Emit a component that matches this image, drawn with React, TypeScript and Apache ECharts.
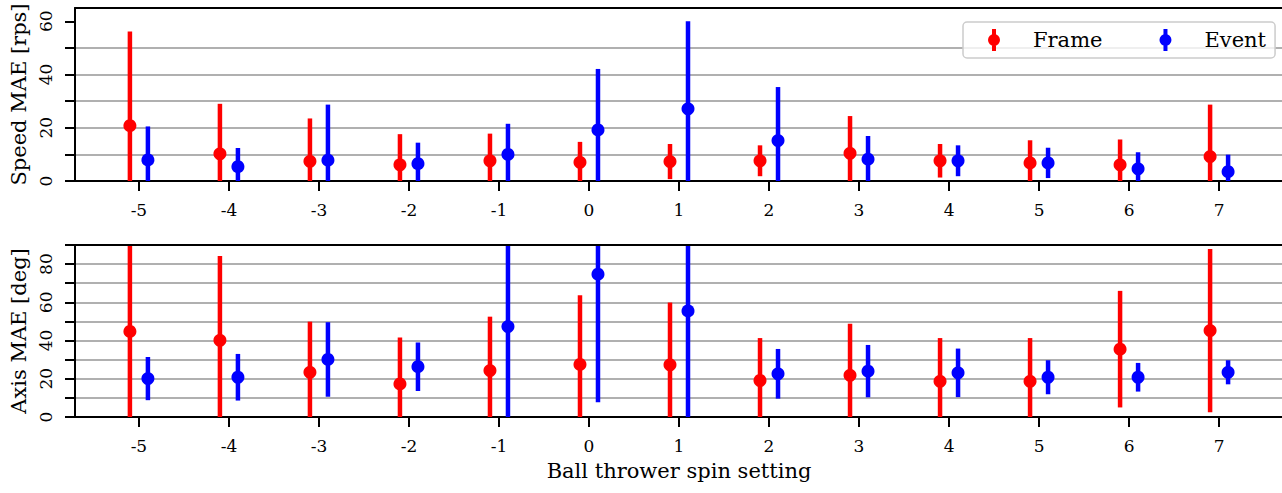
import React, { useEffect, useRef } from "react";
import * as echarts from "echarts";

// ---------------- data ----------------
const settings = [-5, -4, -3, -2, -1, 0, 1, 2, 3, 4, 5, 6, 7];

const speedFrameMean = [20.8, 10.2, 7.4, 6.1, 7.6, 7.0, 7.3, 7.6, 10.4, 7.6, 6.8, 6.1, 9.2];
const speedFrameErr = [35.4, 18.8, 16.1, 11.5, 10.2, 7.7, 6.6, 5.8, 14.0, 6.3, 8.5, 9.5, 19.5];
const speedEventMean = [7.9, 5.4, 7.8, 6.5, 10.0, 19.2, 27.1, 15.2, 8.2, 7.6, 6.8, 4.6, 3.5];
const speedEventErr = [12.6, 7.0, 20.9, 7.9, 11.5, 22.9, 32.9, 20.1, 8.7, 5.8, 5.7, 6.2, 6.4];

const axisFrameMean = [44.8, 40.1, 23.4, 17.3, 24.3, 27.5, 27.3, 19.1, 21.8, 18.7, 18.7, 35.5, 45.2];
const axisFrameErr = [50.0, 44.1, 26.5, 24.3, 28.2, 36.2, 32.6, 22.2, 27.0, 22.6, 22.6, 30.5, 42.7];
const axisEventMean = [20.1, 20.8, 30.1, 26.3, 47.3, 74.7, 55.5, 22.6, 24.0, 23.1, 20.8, 20.8, 23.4];
const axisEventErr = [11.3, 12.2, 19.5, 12.7, 48.0, 67.0, 57.0, 13.0, 13.7, 12.7, 8.9, 7.5, 6.3];

const speedTicks = [0, 10, 20, 30, 40, 50, 60];
const speedLabels = [0, 20, 40, 60];
const axisTicks = [0, 10, 20, 30, 40, 50, 60, 70, 80, 90];
const axisLabels = [0, 20, 40, 60, 80];

const seriesNames = ["Frame", "Event"];
const xAxisTitle = "Ball thrower spin setting";
const speedTitle = "Speed MAE [rps]";
const axisTitle = "Axis MAE [deg]";

// ---------------- style ----------------
const FONT = "DejaVu Serif";
const RED = "#ff0000";
const BLUE = "#0000ff";
const X_MIN = -5.71;
const X_MAX = 7.71;
const DODGE = 0.1;
const SPEED_MAX = 65;
const AXIS_MAX = 90;

const legendIcon =
  "path://M4,0h4v22h-4Z M0,11a6,6 0 1,1 12,0a6,6 0 1,1 -12,0Z";

function errorBars(name: string, color: string, idx: number, means: number[], errs: number[], offset: number, yMax: number) {
  return {
    name,
    type: "custom",
    xAxisIndex: idx,
    yAxisIndex: idx,
    clip: true,
    z: 2,
    itemStyle: { color },
    encode: { x: 0, y: 1 },
    data: settings.map((s, i) => [s + offset, means[i], errs[i]]),
    renderItem: (params: any, api: any) => {
      const x = api.value(0);
      const m = api.value(1);
      const e = api.value(2);
      const lo = Math.max(0, m - e);
      const hi = Math.min(yMax, m + e);
      const p1 = api.coord([x, lo]);
      const p2 = api.coord([x, hi]);
      return {
        type: "line",
        shape: { x1: p1[0], y1: p1[1], x2: p2[0], y2: p2[1] },
        style: { stroke: color, lineWidth: 4.5 },
      };
    },
  };
}

function dots(name: string, color: string, idx: number, means: number[], offset: number) {
  return {
    name,
    type: "scatter",
    xAxisIndex: idx,
    yAxisIndex: idx,
    z: 3,
    symbol: "circle",
    symbolSize: 13,
    itemStyle: { color, opacity: 1 },
    emphasis: { disabled: true },
    data: settings.map((s, i) => [s + offset, means[i]]),
  };
}

const black = "#000000";

function xAxisBottom(gridIndex: number, withName: boolean) {
  return {
    type: "value",
    gridIndex,
    position: "bottom",
    min: X_MIN,
    max: X_MAX,
    axisLine: { show: true, onZero: false, lineStyle: { color: black, width: 2 } },
    axisTick: { show: true, customValues: settings, length: 10, lineStyle: { color: black, width: 2 } },
    axisLabel: {
      customValues: settings,
      margin: 20,
      fontFamily: FONT,
      fontSize: 17,
      color: black,
      formatter: (v: number) => String(v),
    },
    splitLine: { show: false },
    name: withName ? xAxisTitle : "",
    nameLocation: "middle",
    nameGap: 43,
    nameTextStyle: { fontFamily: FONT, fontSize: 21, color: black },
  };
}

function xAxisTop(gridIndex: number) {
  return {
    type: "value",
    gridIndex,
    position: "top",
    min: X_MIN,
    max: X_MAX,
    z: 5,
    axisLine: { show: true, onZero: false, lineStyle: { color: black, width: 2 } },
    axisTick: { show: false },
    axisLabel: { show: false },
    splitLine: { show: false },
  };
}

function yAxis(gridIndex: number, max: number, ticks: number[], labels: number[], title: string) {
  return {
    type: "value",
    gridIndex,
    min: 0,
    max,
    interval: 10,
    axisLine: { show: true, onZero: false, lineStyle: { color: black, width: 2 } },
    axisTick: { show: true, customValues: ticks, length: 10, lineStyle: { color: black, width: 2 } },
    axisLabel: {
      customValues: labels,
      rotate: 90,
      margin: 21,
      fontFamily: FONT,
      fontSize: 17,
      color: black,
      formatter: (v: number) => String(v),
    },
    splitLine: { show: true, showMinLine: false, showMaxLine: false, lineStyle: { color: "#b0b0b0", width: 2 } },
    name: title,
    nameLocation: "middle",
    nameGap: 44,
    nameRotate: 90,
    nameTextStyle: { fontFamily: FONT, fontSize: 21, color: black },
  };
}

export default function App() {
  const ref = useRef<HTMLDivElement>(null);

  useEffect(() => {
    if (!ref.current) return;
    const chart = echarts.init(ref.current, null, { renderer: "svg" });
    const option: any = {
      animation: false,
      backgroundColor: "#ffffff",
      textStyle: { fontFamily: FONT },
      grid: [
        { left: 75, top: 8, width: 1208, height: 173, outerBoundsMode: "none", containLabel: false },
        { left: 75, top: 245, width: 1208, height: 172, outerBoundsMode: "none", containLabel: false },
      ],
      xAxis: [xAxisBottom(0, false), xAxisBottom(1, true), xAxisTop(0), xAxisTop(1)],
      yAxis: [
        yAxis(0, SPEED_MAX, speedTicks, speedLabels, speedTitle),
        yAxis(1, AXIS_MAX, axisTicks, axisLabels, axisTitle),
      ],
      legend: {
        left: 963,
        top: 22,
        orient: "horizontal",
        padding: [7, 9, 7, 25],
        itemGap: 57,
        itemWidth: 12,
        itemHeight: 22,
        selectedMode: false,
        backgroundColor: "rgba(255,255,255,0.8)",
        borderColor: "#cccccc",
        borderWidth: 1.5,
        borderRadius: 4,
        textStyle: { fontFamily: FONT, fontSize: 21, color: black, padding: [0, 0, 0, 28] },
        data: [
          { name: seriesNames[0], icon: legendIcon },
          { name: seriesNames[1], icon: legendIcon },
        ],
      },
      series: [
        dots(seriesNames[0], RED, 0, speedFrameMean, -DODGE),
        dots(seriesNames[1], BLUE, 0, speedEventMean, DODGE),
        errorBars(seriesNames[0], RED, 0, speedFrameMean, speedFrameErr, -DODGE, SPEED_MAX),
        errorBars(seriesNames[1], BLUE, 0, speedEventMean, speedEventErr, DODGE, SPEED_MAX),
        dots(seriesNames[0], RED, 1, axisFrameMean, -DODGE),
        dots(seriesNames[1], BLUE, 1, axisEventMean, DODGE),
        errorBars(seriesNames[0], RED, 1, axisFrameMean, axisFrameErr, -DODGE, AXIS_MAX),
        errorBars(seriesNames[1], BLUE, 1, axisEventMean, axisEventErr, DODGE, AXIS_MAX),
      ],
    };
    chart.setOption(option);
    return () => chart.dispose();
  }, []);

  return (
    <div
      ref={ref}
      style={{ position: "absolute", left: 0, top: 0, width: 1282, height: 493, background: "#fff" }}
    />
  );
}
